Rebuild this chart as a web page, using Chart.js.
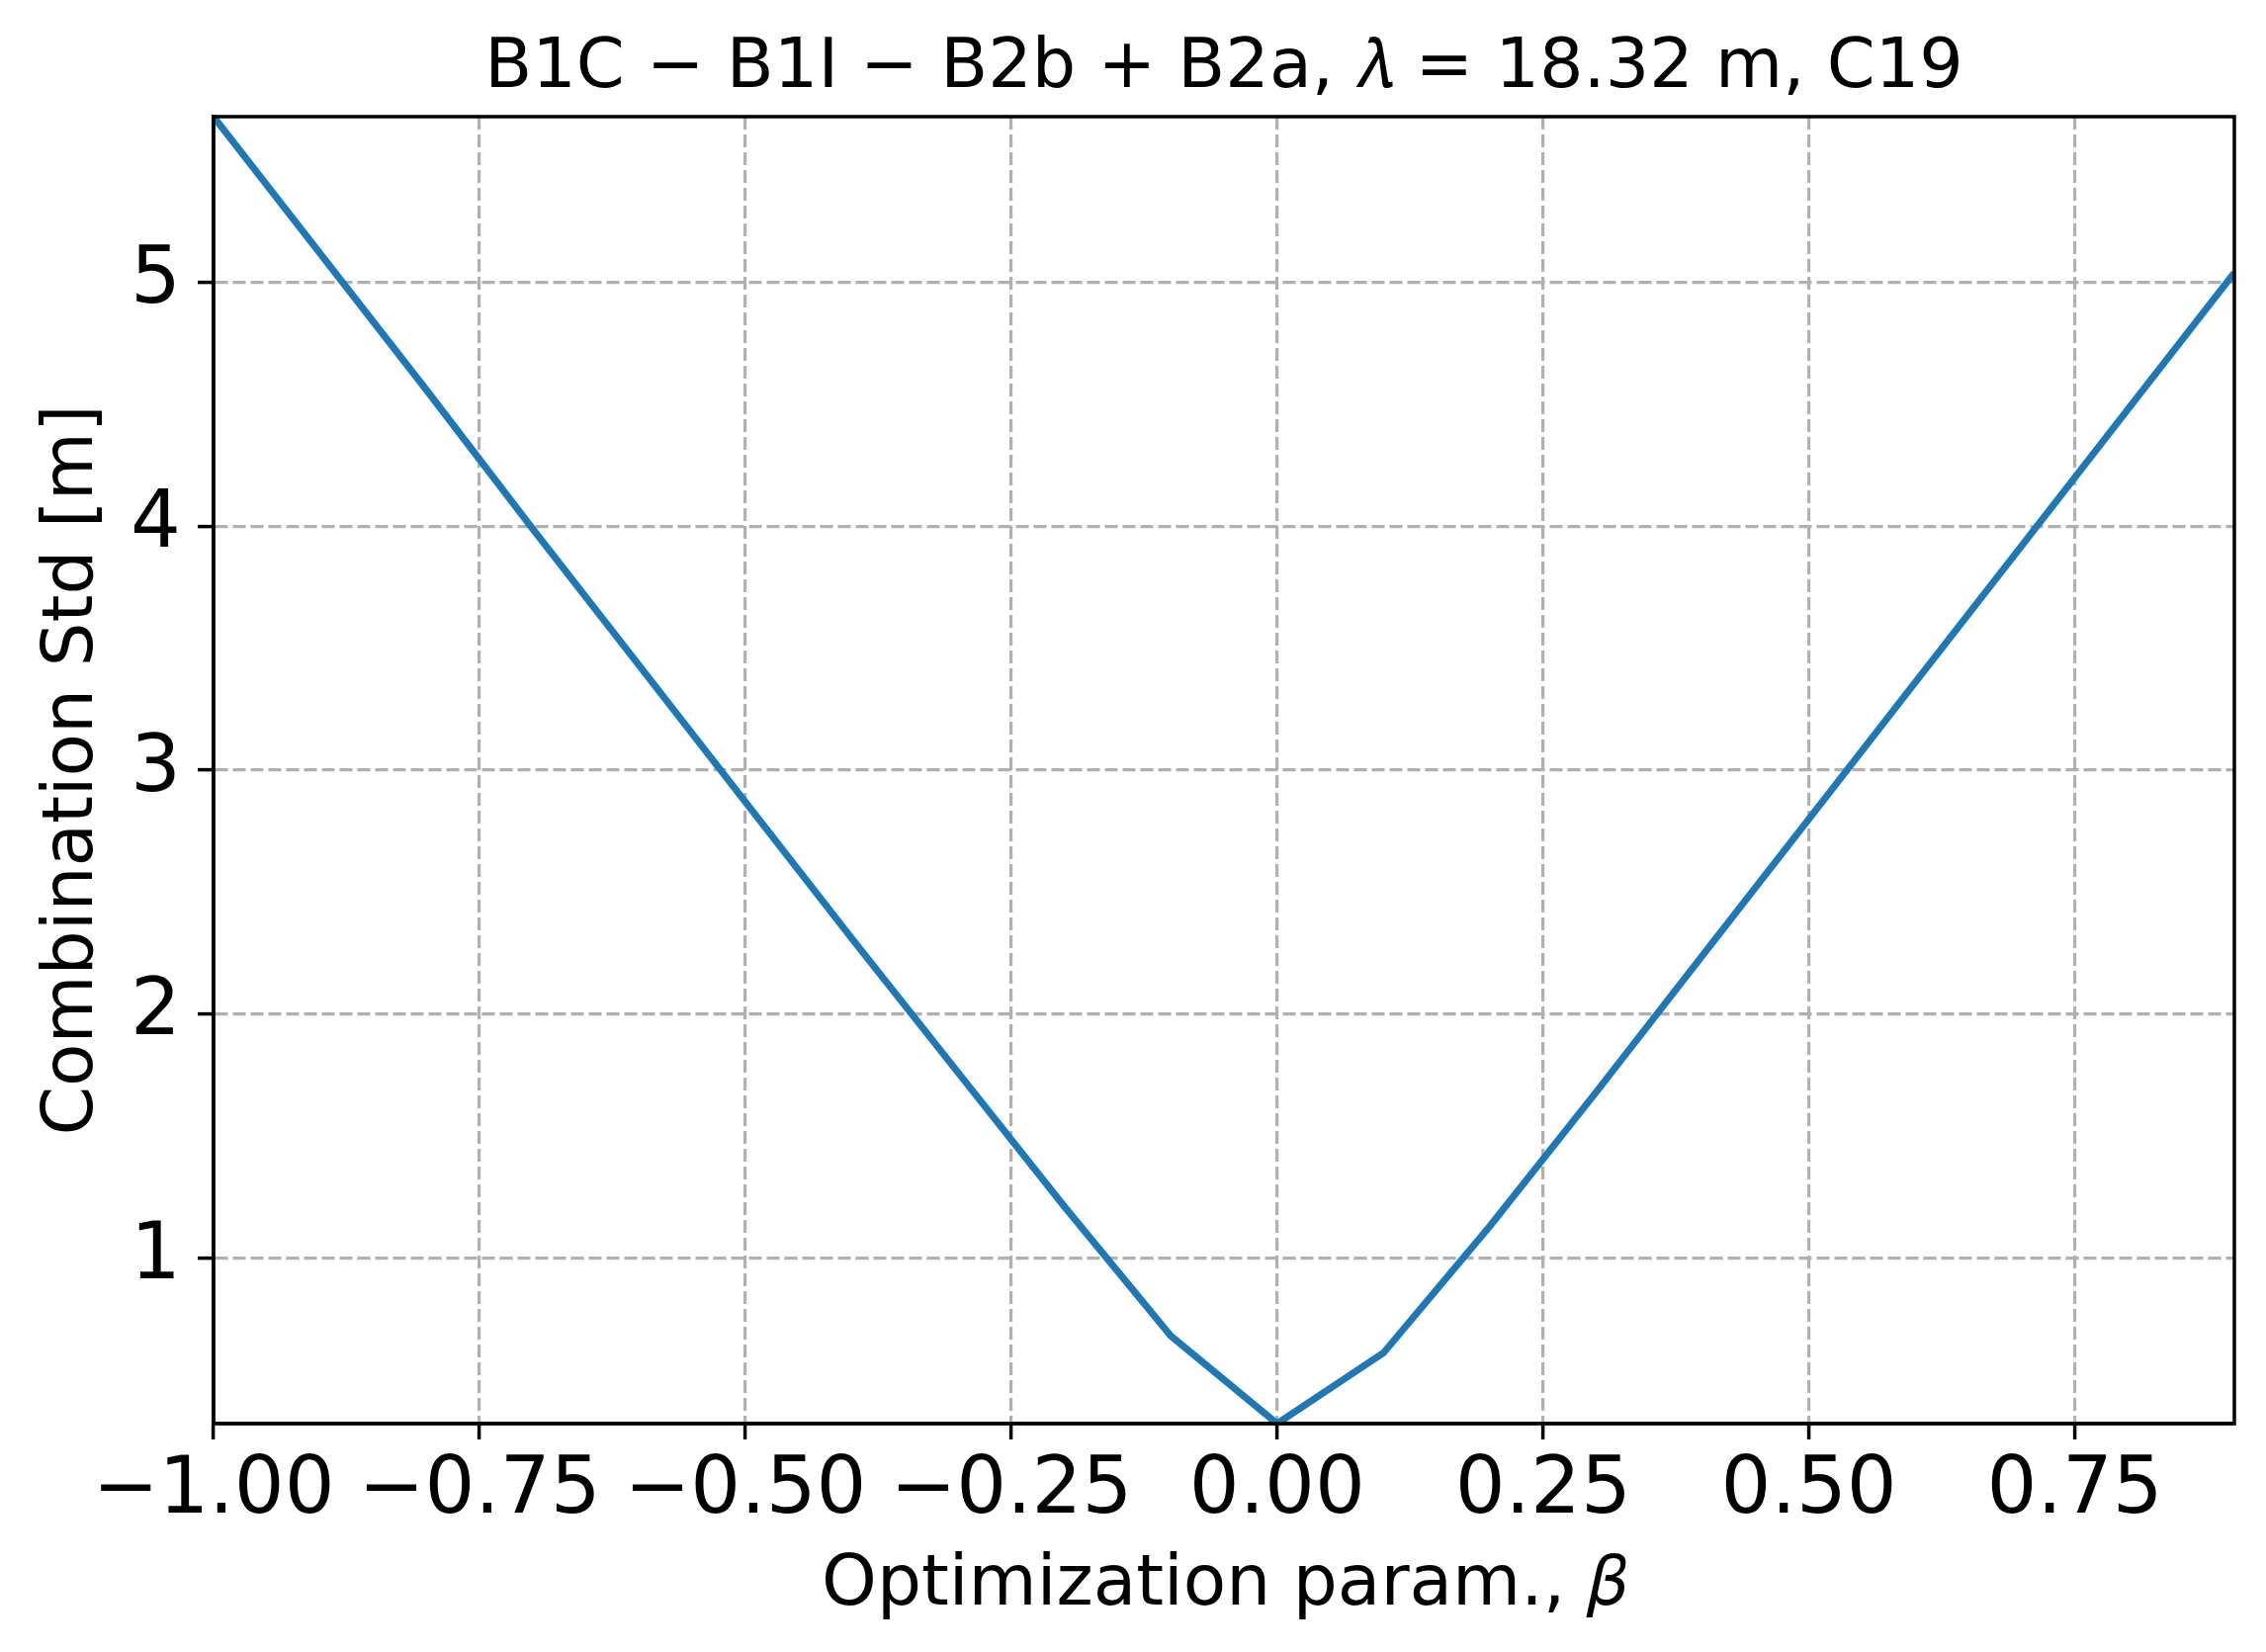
<!DOCTYPE html>
<html>
<head>
<meta charset="utf-8">
<script src="https://cdn.jsdelivr.net/npm/chart.js@4.4.1/dist/chart.umd.min.js"></script>
<style>
  html, body { margin: 0; padding: 0; background: #ffffff; }
  #stdChart { display: block; }
</style>
</head>
<body>
<canvas id="stdChart" width="2292" height="1671"></canvas>
<script>
// Optimization parameter beta (x) and combination std in metres (y)
const betas = [-1.0, -0.9, -0.8, -0.7, -0.6, -0.5, -0.4, -0.3, -0.2, -0.1,
               0.0, 0.1, 0.2, 0.3, 0.4, 0.5, 0.6, 0.7, 0.8, 0.9];
const stdValues = [5.68, 5.12, 4.56, 3.99, 3.43, 2.87, 2.31, 1.76, 1.21, 0.68,
                   0.32, 0.61, 1.13, 1.68, 2.24, 2.80, 3.36, 3.92, 4.48, 5.04];

const xTicks = [-1.0, -0.75, -0.5, -0.25, 0.0, 0.25, 0.5, 0.75];
const yTicks = [1, 2, 3, 4, 5];

const FONT = '"DejaVu Sans", sans-serif';
const GRID = '#b0b0b0';

const fmtX = v => v.toFixed(2).replace('-', '\u2212');

// draw the closed box (top and right spines) around the plot area
const boxPlugin = {
  id: 'box',
  afterDraw(chart) {
    const { ctx, chartArea: a } = chart;
    ctx.save();
    ctx.strokeStyle = '#000';
    ctx.lineWidth = 3.5;
    ctx.strokeRect(a.left, a.top, a.right - a.left, a.bottom - a.top);
    ctx.restore();
  }
};

const ctx = document.getElementById('stdChart').getContext('2d');
new Chart(ctx, {
  type: 'line',
  data: {
    datasets: [{
      data: betas.map((b, i) => ({ x: b, y: stdValues[i] })),
      borderColor: '#1f77b4',
      borderWidth: 7,
      pointRadius: 0,
      fill: false,
      tension: 0
    }]
  },
  options: {
    responsive: false,
    animation: false,
    devicePixelRatio: 1,
    layout: { padding: { left: 0, right: 32, top: 0, bottom: 0 } },
    plugins: {
      legend: { display: false },
      tooltip: { enabled: false },
      title: {
        display: true,
        fullSize: false,
        text: 'B1C \u2212 B1I \u2212 B2b + B2a, \uD835\uDF06 = 18.32 m, C19',
        color: '#000',
        font: { family: FONT, size: 70, weight: 'normal', lineHeight: 1.2 },
        padding: { top: 28, bottom: 6 }
      }
    },
    scales: {
      x: {
        type: 'linear',
        min: -1.0,
        max: 0.9,
        afterBuildTicks: s => { s.ticks = xTicks.map(v => ({ value: v })); },
        afterFit: s => { s.height = 231; },
        ticks: {
          autoSkip: false,
          maxRotation: 0,
          padding: 5,
          color: '#000',
          font: { family: FONT, size: 80 },
          callback: v => fmtX(v)
        },
        grid: {
          color: GRID,
          lineWidth: 3.2,
          tickColor: '#000',
          tickWidth: 3.5,
          tickLength: 16
        },
        border: { display: true, color: '#000', width: 3.5, dash: [13, 5] },
        title: {
          display: true,
          text: 'Optimization param., \uD835\uDEFD',
          color: '#000',
          font: { family: FONT, size: 71, lineHeight: 1.2 },
          padding: { top: 0, bottom: 24 }
        }
      },
      y: {
        type: 'linear',
        min: 0.32,
        max: 5.68,
        afterBuildTicks: s => { s.ticks = yTicks.map(v => ({ value: v })); },
        afterFit: s => { s.width = 216; },
        ticks: {
          padding: 17,
          color: '#000',
          font: { family: FONT, size: 80 },
          callback: v => String(v)
        },
        grid: {
          color: GRID,
          lineWidth: 3.2,
          tickColor: '#000',
          tickWidth: 3.5,
          tickLength: 16
        },
        border: { display: true, color: '#000', width: 3.5, dash: [13, 5] },
        title: {
          display: true,
          text: 'Combination Std [m]',
          color: '#000',
          font: { family: FONT, size: 71, lineHeight: 1.2 },
          padding: { top: 32, bottom: 0 }
        }
      }
    }
  },
  plugins: [boxPlugin]
});
</script>
</body>
</html>
